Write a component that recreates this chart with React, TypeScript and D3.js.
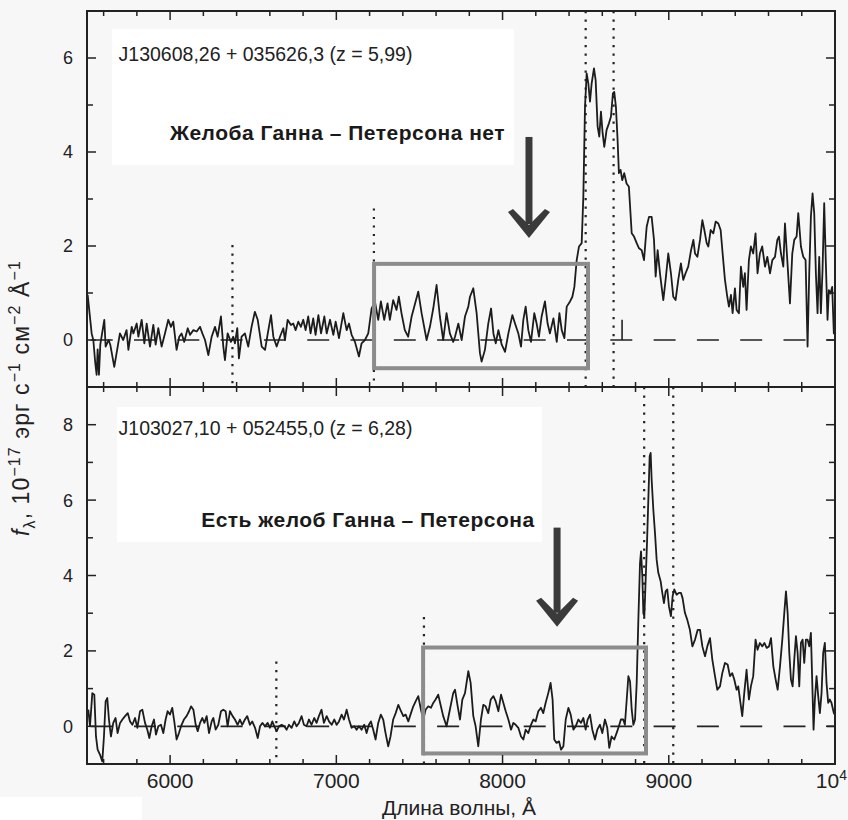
import * as d3 from "d3";
import React, { useEffect, useRef } from "react";

// J130608,26+035626,3 (z = 5,99) — wavelength (Å) and flux (1e-17 erg/s/cm2/Å)
const topWave = [
  5504, 5528, 5538, 5550, 5558, 5564, 5572, 5580, 5604, 5612, 5630, 5640, 5664, 5678, 5698, 5718,
  5738, 5749, 5769, 5779, 5799, 5809, 5829, 5845, 5859, 5879, 5899, 5913, 5929, 5949, 5969, 5989,
  6005, 6019, 6039, 6055, 6069, 6085, 6106, 6120, 6140, 6160, 6180, 6194, 6210, 6230, 6250, 6270,
  6286, 6306, 6320, 6330, 6346, 6366, 6380, 6390, 6404, 6414, 6430, 6450, 6470, 6490, 6510, 6527,
  6551, 6571, 6591, 6607, 6621, 6641, 6661, 6681, 6691, 6707, 6727, 6741, 6755, 6771, 6787, 6801,
  6815, 6831, 6845, 6861, 6875, 6892, 6908, 6928, 6942, 6962, 6982, 6996, 7016, 7042, 7062, 7076,
  7092, 7112, 7136, 7152, 7172, 7192, 7212, 7232, 7252, 7268, 7288, 7308, 7322, 7342, 7362, 7376,
  7392, 7412, 7432, 7453, 7493, 7513, 7543, 7563, 7583, 7603, 7623, 7643, 7663, 7683, 7703,
  7714, 7734, 7754, 7774, 7794, 7804, 7824, 7844, 7864, 7874, 7894, 7914, 7931, 7945, 7959, 7975,
  7995, 8015, 8035, 8059, 8075, 8095, 8111, 8125, 8139, 8155, 8171, 8191, 8205, 8219, 8235, 8255,
  8271, 8285, 8306, 8326, 8342, 8356, 8372, 8386, 8406, 8420, 8432, 8446, 8460, 8476, 8486, 8496,
  8506, 8516, 8526, 8536, 8550, 8560, 8572, 8582, 8592, 8602, 8612, 8626, 8640, 8652, 8664, 8672,
  8682, 8692, 8700, 8710, 8720, 8732, 8746, 8760, 8777, 8791, 8807, 8821, 8837, 8851, 8867, 8881,
  8897, 8911, 8921, 8933, 8947, 8957, 8967, 8981, 8997, 9013, 9027, 9041, 9057, 9073, 9087, 9101,
  9117, 9134, 9148, 9158, 9172, 9188, 9202, 9214, 9228, 9238, 9252, 9268, 9282, 9298, 9312, 9324,
  9338, 9352, 9362, 9374, 9384, 9398, 9408, 9422, 9434, 9448, 9458, 9468, 9482, 9494, 9508, 9522,
  9534, 9548, 9562, 9579, 9593, 9609, 9623, 9639, 9653, 9663, 9675, 9689, 9699, 9713, 9729, 9743,
  9755, 9769, 9779, 9795, 9809, 9823, 9835, 9845, 9855, 9865, 9875, 9885, 9895, 9905, 9915, 9925,
  9935, 9945, 9955, 9963, 9973, 9983, 9993, 10000,
];
const topFlux = [
  0.96, 0.14, 0, -0.5, -0.74, -0.2, -0.74, -0.1, 0.43, -0.14, 0, -0.1, -0.57, -0.28, 0.14, 0,
  0.21, -0.21, 0.28, 0.14, 0.35, 0.07, 0.43, -0.07, 0.35, -0.14, 0.32, -0.1, 0.25, -0.14, 0.14, 0.43,
  0.28, 0.39, -0.21, 0.07, 0.14, -0.04, 0.25, 0.11, 0.21, 0.18, 0.28, 0.14, 0, -0.32, 0.07, 0.28,
  0.07, 0.5, -0.14, -0.43, 0.14, -0.04, 0.07, -0.07, 0.25, -0.39, 0.07, 0.14, -0.14, 0.28, 0.6, 0.43,
  -0.14, -0.21, 0.21, 0.53, 0.07, -0.14, 0.07, 0.25, 0, 0.43, 0.32, 0.35, 0.21, 0.39, 0.28, 0.43,
  0.21, 0.5, 0.14, 0.46, 0.11, 0.53, 0.14, 0.5, 0.14, 0.43, 0.11, 0.39, 0.04, 0.57, 0.21, 0.35,
  0.11, -0.04, -0.35, -0.07, 0, 0.14, 0.67, 0.82, 0.43, 0.82, 0.43, 0.78, 0.43, 0.85, 0.64, 0.92,
  0.57, 0.21, 0.07, 0.5, 1.03, 0.57, 0, 0.28, 0.67, 1.17, 0.5, 0, 0.57, 0.14, -0.04,
  0.07, 0.35, 0, 0.5, 0.71, 0.92, 1.1, 0.57, -0.28, -0.46, -0.21, 0.35, 0.67, 0.14, -0.07, 0.21,
  -0.1, -0.25, 0.14, 0.53, 0.35, 0.14, -0.14, 0.43, 0.71, 0.21, -0.04, 0.57, 0.35, 0.07, 0.5, 0.82,
  0.35, 0.14, 0.46, -0.04, 0.57, 0.21, 0.04, 0.71, 0.82, 0.92, 1.13, 1.7, 1.99, 2.06, 3.05, 4.96,
  5.67, 5.46, 5.07, 5.46, 5.78, 5.53, 4.54, 4.33, 4.86, 4.4, 4.11, 4.47, 4.61, 4.75, 5.25, 5.28,
  4.96, 4.26, 3.55, 3.62, 3.4, 3.55, 3.33, 3.26, 2.27, 2.2, 2.06, 1.95, 1.91, 1.7, 2.41, 2.62,
  2.62, 2.13, 1.35, 1.91, 1.42, 1.13, 0.85, 1.28, 1.84, 1.42, 0.92, 0.85, 1.28, 1.63, 1.28, 1.42,
  1.56, 1.91, 2.13, 1.84, 1.77, 2.13, 2.55, 2.34, 2.06, 1.99, 2.34, 2.27, 2.52, 2.48, 2.34, 1.84,
  1.28, 0.92, 0.71, 0.96, 0.57, 1.1, 0.64, 0.57, 1.56, 1.13, 1.42, 0.64, 1.7, 1.99, 1.84, 2.27,
  1.42, 1.84, 1.99, 1.56, 1.77, 1.42, 1.7, 1.77, 2.13, 2.2, 1.84, 1.56, 2.48, 1.7, 0.78, 1.84,
  2.13, 2.2, 2.7, 1.99, 1.77, 1.7, -0.14, 1.42, 2.62, 3.12, 2.7, 1.42, 0.57, 1.77, 0.57, 1.49,
  2.91, 1.63, 0.43, 1.06, 0.99, 1.13, 0.14, 0.43,
];

// J103027,10+052455,0 (z = 6,28)
const bottomWave = [
  5508, 5518, 5532, 5544, 5554, 5564, 5578, 5592, 5602, 5612, 5622, 5632, 5644, 5658, 5672, 5684,
  5699, 5713, 5729, 5745, 5759, 5773, 5789, 5803, 5819, 5833, 5849, 5863, 5875, 5889, 5903, 5915,
  5929, 5945, 5959, 5973, 5985, 5999, 6013, 6025, 6039, 6053, 6069, 6083, 6099, 6114, 6126, 6140,
  6154, 6166, 6180, 6194, 6206, 6220, 6234, 6250, 6260, 6274, 6290, 6306, 6320, 6334, 6346, 6360,
  6376, 6390, 6406, 6420, 6434, 6450, 6464, 6480, 6494, 6511, 6527, 6541, 6555, 6571, 6587, 6601,
  6615, 6627, 6641, 6655, 6671, 6687, 6701, 6715, 6731, 6747, 6761, 6775, 6791, 6805, 6821, 6835,
  6851, 6867, 6881, 6895, 6911, 6925, 6942, 6956, 6972, 6988, 7002, 7016, 7032, 7046, 7062, 7076,
  7092, 7108, 7122, 7136, 7152, 7168, 7182, 7196, 7208, 7222, 7236, 7252, 7268, 7282, 7296, 7312,
  7326, 7342, 7357, 7373, 7389, 7403, 7417, 7433, 7449, 7463, 7477, 7493, 7509, 7523, 7537, 7553,
  7569, 7583, 7597, 7613, 7629, 7643, 7663, 7683, 7703,
  7714, 7730, 7744, 7758, 7774, 7794, 7808, 7824, 7838, 7854, 7870, 7884, 7898, 7914, 7929, 7945,
  7959, 7975, 7991, 8005, 8019, 8035, 8051, 8065, 8079, 8095, 8111, 8125, 8139, 8155, 8171, 8185,
  8199, 8215, 8231, 8245, 8259, 8275, 8289, 8301, 8311, 8325, 8340, 8352, 8366, 8380, 8396, 8410,
  8426, 8440, 8456, 8472, 8486, 8500, 8512, 8526, 8540, 8556, 8570, 8586, 8600, 8616, 8630, 8642,
  8656, 8672, 8686, 8700, 8712, 8726, 8736, 8747, 8757, 8767, 8777, 8787, 8797, 8807, 8817, 8827,
  8833, 8841, 8847, 8853, 8861, 8869, 8877, 8885, 8891, 8897, 8907, 8917, 8927, 8937, 8951, 8961,
  8971, 8981, 8991, 9001, 9013, 9023, 9033, 9047, 9061, 9073, 9083, 9097, 9111, 9127, 9142, 9158,
  9174, 9188, 9202, 9218, 9232, 9248, 9262, 9278, 9292, 9308, 9322, 9338, 9354, 9368, 9382, 9394,
  9408, 9418, 9430, 9442, 9454, 9468, 9482, 9494, 9508, 9522, 9534, 9548, 9563, 9575, 9589, 9603,
  9615, 9629, 9643, 9655, 9669, 9683, 9695, 9705, 9715, 9725, 9735, 9745, 9755, 9765, 9775, 9785,
  9795, 9805, 9815, 9825, 9835, 9845, 9855, 9865, 9871, 9879, 9889, 9899, 9909, 9919, 9929, 9939,
  9949, 9959, 9969, 9979, 9993, 10000,
];
const bottomFlux = [
  0.44, 0, 0.88, 0.84, -0.27, -0.62, -0.75, -0.93, -0.27, 0.66, 0.75, 0.18, -0.27, 0.09, 0.22, -0.18,
  0.09, 0.18, 0.27, 0.35, 0.13, 0.04, 0.22, -0.04, 0.4, 0.44, 0.09, -0.09, -0.31, 0, 0.18, -0.22,
  0, 0.04, -0.18, 0.18, 0.4, 0.31, 0.49, 0.13, -0.35, -0.18, 0.04, 0.18, 0.27, 0.4, 0.53, 0.44,
  0.04, -0.13, 0.09, 0.22, 0.09, 0.27, -0.18, 0.13, 0.22, -0.09, 0.04, 0.4, 0.44, 0.4, 0, 0.4,
  0.27, 0.18, 0.04, 0.18, 0.04, 0.18, 0.27, 0.04, 0.13, -0.04, -0.31, 0, 0.09, 0, 0.09, -0.04,
  0.13, 0, -0.13, 0, 0.04, 0, -0.09, 0.04, -0.04, 0.13, 0, 0.09, 0.27, 0.04, 0, 0.18,
  0.04, 0.22, 0.09, 0.27, 0.44, 0.09, 0.27, 0.13, 0.04, 0.18, 0.04, 0.13, 0.31, 0.18, 0.44, 0.18,
  -0.04, 0, -0.09, 0, -0.09, 0.04, -0.18, 0.04, 0.13, -0.09, -0.35, 0.09, 0.31, 0.18, -0.18, -0.53,
  -0.27, 0.18, 0.35, 0.57, 0.4, 0.27, 0.31, 0.13, 0.35, 0.53, 0.66, 0.8, 0.44, 0.18, 0.44, 0.53,
  0.49, 0.62, 0.71, 0.84, 0.53, 0.27, 0, 0.44, 0.88,
  0.97, 0.53, 0.18, 0.71, 0.88, 1.46, 1.15, 0.27, 0, -0.53, 0.18, 0.57, 0.53, 0.35, 0.71, 0.8,
  0.66, 0.4, 0.84, 0.62, 0.4, 0.18, -0.09, 0.09, 0.04, -0.04, -0.27, -0.35, -0.09, -0.18, 0.04, 0.18,
  0.13, 0.4, 0.49, 0.35, 0.62, 0.88, 1.15, 0.71, -0.35, -0.44, -0.4, -0.62, -0.53, 0.18, 0.49, 0.31,
  -0.09, 0, 0.18, 0.09, 0.22, -0.09, 0.18, 0.31, -0.09, -0.35, -0.09, 0.04, -0.18, 0.18, -0.04, -0.57,
  -0.27, -0.35, -0.18, 0, 0.18, 0.18, 0.04, 0.71, 1.33, 1.19, 0.44, 0.04, 0.18, 1.15, 2.83, 4.33,
  4.64, 3.98, 3.0, 2.92, 3.89, 4.86, 6.01, 7.16, 7.25, 6.54, 5.75, 5.13, 4.42, 4.07, 3.85, 3.54,
  3.27, 3.58, 3.63, 3.18, 2.92, 3.45, 3.63, 3.49, 3.54, 3.54, 3.4, 3.01, 2.83, 2.56, 2.12, 2.3,
  2.56, 2.56, 2.12, 1.86, 2.12, 2.34, 1.77, 1.33, 0.97, 1.06, 1.41, 1.68, 1.64, 1.33, 1.41, 1.24,
  0.97, 1.06, 0.66, 0.27, 0.88, 1.5, 0.71, 1.06, 1.33, 2.3, 2.03, 2.21, 2.12, 2.21, 2.08, 2.12,
  2.34, 1.59, 1.24, 0.97, 1.59, 2.3, 3.01, 3.58, 3.01, 1.95, 1.24, 1.06, 1.77, 2.39, 1.95, 1.06,
  2.21, 2.3, 1.68, 2.3, 2.3, 2.12, 2.48, 0.88, -0.09, 0.71, 1.33, 0.8, 0.35, 0.88, 1.95, 2.21,
  1.15, 0.62, 0.71, 0.62, 0.35, 0.3,
];

// dotted line positions (Lyman limit, O VI, Lyα, N V) and where they start
const topLineWaves = [6375, 7226, 8500, 8668];
const topLineTops = [2.02, 2.8, 7, 7];
const bottomLineWaves = [6639, 7527, 8852, 9027];
const bottomLineTops = [1.72, 2.9, 9, 9];

const xTickLabels = ["6000", "7000", "8000", "9000"];
const xTickValues = [6000, 7000, 8000, 9000];

const topTitle = "J130608,26 + 035626,3 (z = 5,99)";
const topNote = "Желоба Ганна – Петерсона нет";
const bottomTitle = "J103027,10 + 052455,0 (z = 6,28)";
const bottomNote = "Есть желоб Ганна – Петерсона";

const FONT = "'Liberation Sans', Arial, Helvetica, sans-serif";
const INK = "#222";

const App = () => {
  const svgRef = useRef<SVGSVGElement | null>(null);

  useEffect(() => {
    if (svgRef.current) drawChart();
    return () => {
      d3.select(svgRef.current).selectAll("*").remove();
    };
  }, []);

  const drawChart = () => {
    const svg = d3.select(svgRef.current);
    const width = 848;
    const height = 820;

    svg.append("rect").attr("width", width).attr("height", height).attr("fill", "#f7f7f7");
    svg.append("rect").attr("x", 0).attr("y", 797).attr("width", 142).attr("height", 23).attr("fill", "#fff");

    const x = d3.scaleLinear().domain([5500, 10000]).range([87, 835]);

    const panels = [
      {
        wave: topWave, flux: topFlux, y: d3.scaleLinear().domain([-1, 7]).range([387, 11]),
        lines: topLineWaves, lineTops: topLineTops, title: topTitle, note: topNote,
        textBox: [5650, 8069, 6.62, 3.72], titlePos: [5690, 5.94], notePos: [7007, 4.26],
        box: [7227, 8514, 1.62, -0.6], arrow: [8159, 4.32, 2.17], marker: [8719, 0.43],
        labels: [0, 2, 4, 6],
      },
      {
        wave: bottomWave, flux: bottomFlux, y: d3.scaleLinear().domain([-1, 9]).range([764, 387]),
        lines: bottomLineWaves, lineTops: bottomLineTops, title: bottomTitle, note: bottomNote,
        textBox: [5680, 8237, 8.47, 4.89], titlePos: [5690, 7.73], notePos: [7190, 5.29],
        box: [7522, 8863, 2.09, -0.72], arrow: [8328, 5.27, 2.64], marker: null,
        labels: [0, 2, 4, 6, 8],
      },
    ];

    panels.forEach((p, i) => {
      const y = p.y;
      const [y0, y1] = y.domain();
      const top = y(y1);
      const bottom = y(y0);
      const g = svg.append("g");

      // white patch behind the annotation text
      g.append("rect")
        .attr("x", x(p.textBox[0]))
        .attr("y", y(p.textBox[2]))
        .attr("width", x(p.textBox[1]) - x(p.textBox[0]))
        .attr("height", y(p.textBox[3]) - y(p.textBox[2]))
        .attr("fill", "#fff");

      // zero level
      g.append("line")
        .attr("x1", x(5500)).attr("x2", x(10000))
        .attr("y1", y(0)).attr("y2", y(0))
        .attr("stroke", INK).attr("stroke-width", 1.7)
        .attr("stroke-dasharray", "22 21.3").attr("stroke-dashoffset", 39.6);

      // line positions
      g.selectAll(".mark")
        .data(p.lines)
        .enter()
        .append("line")
        .attr("x1", (d) => x(d)).attr("x2", (d) => x(d))
        .attr("y1", (d, k) => y(p.lineTops[k])).attr("y2", bottom)
        .attr("stroke", INK).attr("stroke-width", 2.2)
        .attr("stroke-dasharray", "2.2 6.3");

      if (p.marker) {
        g.append("line")
          .attr("x1", x(p.marker[0])).attr("x2", x(p.marker[0]))
          .attr("y1", y(0)).attr("y2", y(p.marker[1]))
          .attr("stroke", INK).attr("stroke-width", 1.6);
      }

      // spectrum
      const line = d3.line<number>()
        .x((d, k) => x(p.wave[k]))
        .y((d) => y(d));
      g.append("path")
        .datum(p.flux)
        .attr("d", line)
        .attr("fill", "none")
        .attr("stroke", "#1c1c1c")
        .attr("stroke-width", 1.8)
        .attr("stroke-linejoin", "round");

      // grey frame around the Lyα forest region
      g.append("rect")
        .attr("x", x(p.box[0]))
        .attr("y", y(p.box[2]))
        .attr("width", x(p.box[1]) - x(p.box[0]))
        .attr("height", y(p.box[3]) - y(p.box[2]))
        .attr("fill", "none")
        .attr("stroke", "#8c8c8c")
        .attr("stroke-width", 4);

      // arrow
      const ax = x(p.arrow[0]);
      const tipY = y(p.arrow[2]);
      g.append("line")
        .attr("x1", ax).attr("x2", ax)
        .attr("y1", y(p.arrow[1])).attr("y2", tipY - 14)
        .attr("stroke", "#3a3a3a").attr("stroke-width", 7);
      const head = [[0, 0], [-21, -26], [-16, -29], [0, -13], [16, -29], [21, -26]];
      g.append("polygon")
        .attr("points", head.map(([dx, dy]) => `${ax + dx},${tipY + dy}`).join(" "))
        .attr("fill", "#3a3a3a");

      // annotation text
      g.append("text")
        .attr("x", x(p.titlePos[0])).attr("y", y(p.titlePos[1]))
        .attr("font-family", FONT).attr("font-size", 19.5).attr("fill", INK)
        .text(p.title);
      g.append("text")
        .attr("x", x(p.notePos[0])).attr("y", y(p.notePos[1]))
        .attr("text-anchor", "middle")
        .attr("font-family", FONT).attr("font-size", 21).attr("font-weight", "bold")
        .attr("letter-spacing", 0.5).attr("fill", "#1a1a1a")
        .text(p.note);

      // ticks
      const xMinor = d3.range(5600, 10000, 200);
      const tickG = g.append("g").attr("stroke", INK).attr("stroke-width", 1.5);
      xMinor.forEach((v) => {
        const len = v % 1000 === 0 ? 9 : 5;
        tickG.append("line").attr("x1", x(v)).attr("x2", x(v)).attr("y1", top).attr("y2", top + len);
        tickG.append("line").attr("x1", x(v)).attr("x2", x(v)).attr("y1", bottom).attr("y2", bottom - len);
      });
      d3.range(y0 + 1, y1).forEach((v) => {
        const len = v % 2 === 0 ? 9 : 6;
        tickG.append("line").attr("x1", x(5500)).attr("x2", x(5500) + len).attr("y1", y(v)).attr("y2", y(v));
        tickG.append("line").attr("x1", x(10000)).attr("x2", x(10000) - len).attr("y1", y(v)).attr("y2", y(v));
      });

      // frame
      g.append("rect")
        .attr("x", x(5500)).attr("y", top)
        .attr("width", x(10000) - x(5500)).attr("height", bottom - top)
        .attr("fill", "none").attr("stroke", INK).attr("stroke-width", 2);

      // y tick labels
      g.selectAll(".ylab")
        .data(p.labels)
        .enter()
        .append("text")
        .attr("x", x(5500) - 14)
        .attr("y", (d) => y(d))
        .attr("dy", "0.36em")
        .attr("text-anchor", "end")
        .attr("font-family", FONT).attr("font-size", 18).attr("fill", INK)
        .text((d) => d);

      if (i === 1) {
        g.selectAll(".xlab")
          .data(xTickValues)
          .enter()
          .append("text")
          .attr("x", (d) => x(d))
          .attr("y", bottom + 24)
          .attr("text-anchor", "middle")
          .attr("font-family", FONT).attr("font-size", 21).attr("fill", INK)
          .text((d, k) => xTickLabels[k]);
        const t = g.append("text")
          .attr("x", 847)
          .attr("y", bottom + 24)
          .attr("text-anchor", "end")
          .attr("font-family", FONT).attr("font-size", 21).attr("fill", INK);
        t.append("tspan").text("10");
        t.append("tspan").attr("dy", -8).attr("font-size", 14).text("4");
      }
    });

    // axis titles
    svg.append("text")
      .attr("x", 459).attr("y", 815)
      .attr("text-anchor", "middle")
      .attr("font-family", FONT).attr("font-size", 21).attr("fill", INK)
      .text("Длина волны, Å");

    const yl = svg.append("text")
      .attr("transform", "translate(29,398) rotate(-90)")
      .attr("text-anchor", "middle")
      .attr("font-family", FONT).attr("font-size", 23).attr("letter-spacing", 1.1).attr("fill", INK);
    yl.append("tspan").attr("font-style", "italic").text("f");
    yl.append("tspan").attr("dy", 6).attr("font-size", 16).text("λ");
    yl.append("tspan").attr("dy", -6).text(", 10");
    yl.append("tspan").attr("dy", -9).attr("font-size", 16).text("−17");
    yl.append("tspan").attr("dy", 9).text(" эрг с");
    yl.append("tspan").attr("dy", -9).attr("font-size", 16).text("−1");
    yl.append("tspan").attr("dy", 9).text(" см");
    yl.append("tspan").attr("dy", -9).attr("font-size", 16).text("−2");
    yl.append("tspan").attr("dy", 9).text("  Å");
    yl.append("tspan").attr("dy", -9).attr("font-size", 16).text("−1");
  };

  return (
    <svg
      ref={svgRef}
      width={848}
      height={820}
      style={{ position: "absolute", left: 0, top: 0, display: "block" }}
    />
  );
};

export default App;
